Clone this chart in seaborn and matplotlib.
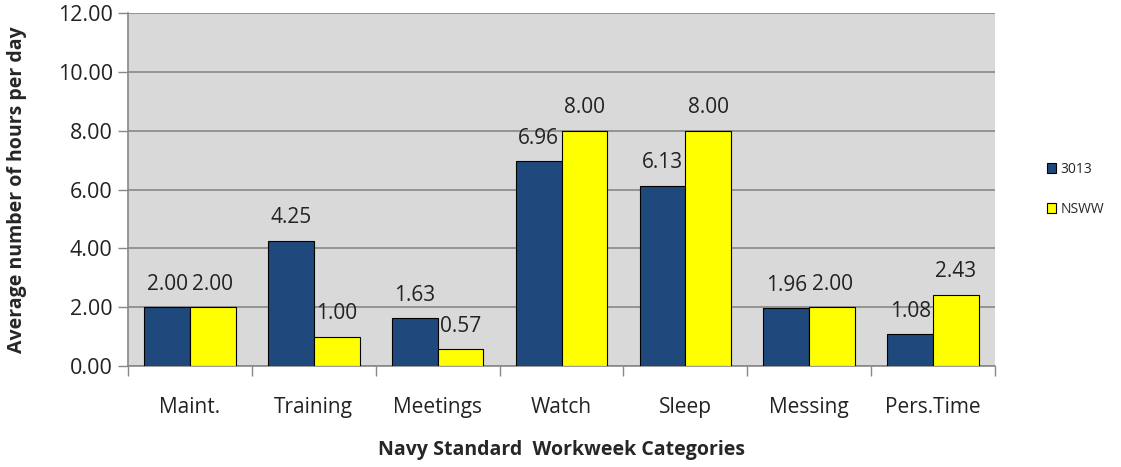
import matplotlib
matplotlib.use("Agg")
import matplotlib.pyplot as plt
import seaborn as sns
import pandas as pd
import numpy as np

categories = ["Maint.", "Training", "Meetings", "Watch", "Sleep", "Messing", "Pers.Time"]
series_names = ["3013", "NSWW"]
values_3013 = [2.00, 4.25, 1.63, 6.96, 6.13, 1.96, 1.08]
values_nsww = [2.00, 1.00, 0.57, 8.00, 8.00, 2.00, 2.43]
yticks = [0, 2, 4, 6, 8, 10, 12]

df = pd.DataFrame({
    "Category": categories * 2,
    "Series": [series_names[0]] * len(categories) + [series_names[1]] * len(categories),
    "Hours": values_3013 + values_nsww,
})

sns.set_theme(style="white")
plt.rcParams['font.family'] = ['Open Sans', 'DejaVu Sans']

fig = plt.figure(figsize=(11.21, 4.67), dpi=100)
ax = fig.add_axes([0.1142, 0.2163, 0.7734, 0.7557])
ax.set_facecolor("#d9d9d9")

palette = {"3013": "#1f497d", "NSWW": "#ffff00"}
sns.barplot(data=df, x="Category", y="Hours", hue="Series", palette=palette,
            order=categories, hue_order=series_names, width=0.74,
            edgecolor="black", linewidth=0.8, ax=ax, saturation=1, zorder=3)

for cont in ax.containers:
    ax.bar_label(cont, fmt="%.2f", padding=9, fontsize=15, color="#222222")

ax.set_ylim(0, 12)
ax.set_yticks(yticks)
ax.set_yticklabels([f"{v:.2f}" for v in yticks], fontsize=15.5, color="#222222")
ax.yaxis.grid(True, color="#888888", linewidth=1.2, zorder=0)
ax.set_axisbelow(True)
ax.set_xlim(-0.5, len(categories) - 0.5)

ax.tick_params(axis="x", which="major", length=0, labelsize=15, pad=22, colors="#222222")
ax.set_xticks(np.arange(-0.5, len(categories), 1.0), minor=True)
ax.tick_params(axis="x", which="minor", length=7, color="#888888", width=1, direction="out", bottom=True)
ax.tick_params(axis="y", length=7, color="#888888", width=1, direction="out", left=True, pad=4)

for s in ["top", "right"]:
    ax.spines[s].set_visible(False)
ax.spines["left"].set_color("#888888")
ax.spines["bottom"].set_color("#888888")
ax.spines["left"].set_linewidth(1.2)
ax.spines["bottom"].set_linewidth(1.2)

ax.set_xlabel("Navy Standard  Workweek Categories", fontsize=14, fontweight="bold", labelpad=16)
ax.set_ylabel("Average number of hours per day", fontsize=14, fontweight="bold", labelpad=22)

leg = ax.legend(loc="center left", bbox_to_anchor=(1.045, 0.5), frameon=False,
                fontsize=10, handlelength=0.7, handleheight=0.7, labelspacing=1.8,
                handletextpad=0.3)
for h in leg.legend_handles:
    h.set_edgecolor("black")

fig.savefig("out.png", dpi=100)
